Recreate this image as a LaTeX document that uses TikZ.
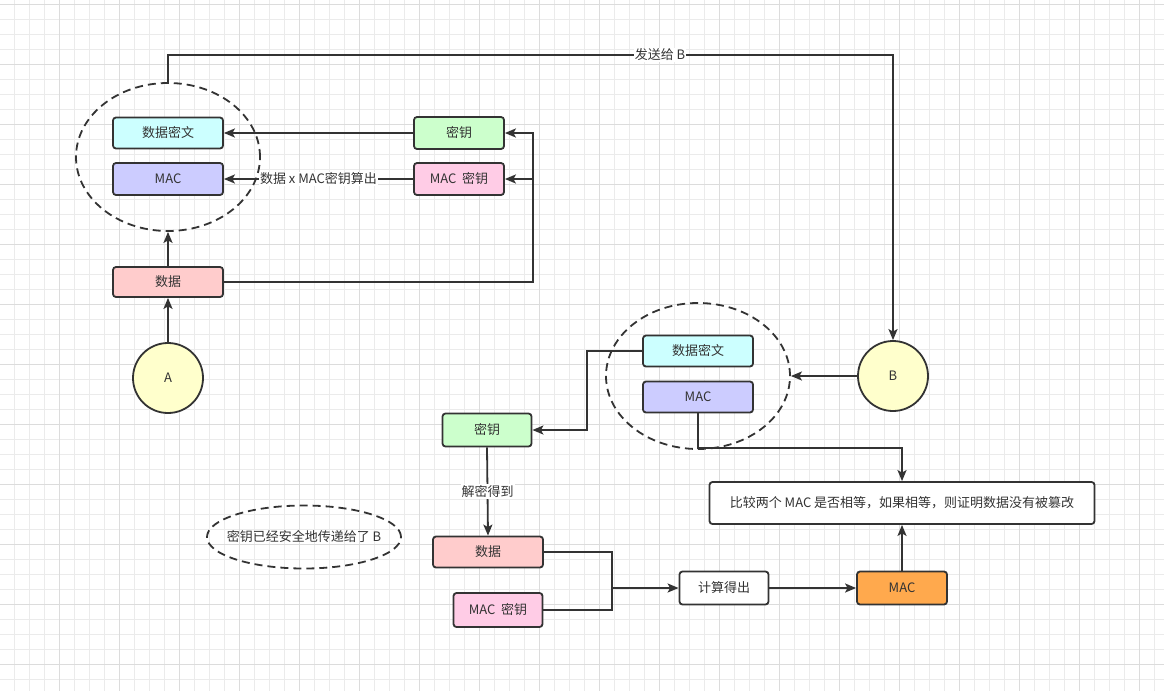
\documentclass[tikz,border=0pt]{standalone}
\usepackage{fontspec}
\setmainfont{Noto Sans CJK SC}
\usetikzlibrary{arrows.meta,shapes.geometric}
\definecolor{ink}{HTML}{333333}
\definecolor{gridmin}{HTML}{EBEBEB}
\definecolor{gridmaj}{HTML}{DCDCDC}
\definecolor{cyanf}{HTML}{CCFFFF}
\definecolor{lavf}{HTML}{CCCCFF}
\definecolor{greenf}{HTML}{CCFFCC}
\definecolor{pinkf}{HTML}{FFCCE6}
\definecolor{redf}{HTML}{FFCCCC}
\definecolor{yelf}{HTML}{FFFFCC}
\definecolor{orangef}{HTML}{FFA94D}
\begin{document}
\begin{tikzpicture}[x=1pt,y=-1pt,
  txt/.style={text=ink,font=\fontsize{13}{15}\selectfont},
  box/.style={txt,rectangle,rounded corners=3pt,draw=ink,line width=1.8pt,inner sep=0pt},
  circ/.style={txt,circle,draw=ink,fill=yelf,line width=1.8pt,minimum size=70pt,inner sep=0pt},
  dell/.style={ellipse,draw=ink,line width=1.8pt,dash pattern=on 8pt off 5pt,inner sep=0pt},
  conn/.style={draw=ink,line width=1.8pt,-{Stealth[length=11pt,width=9pt,inset=2.5pt]}},
  plain/.style={draw=ink,line width=1.8pt},
  lbl/.style={txt,fill=white,inner sep=1pt},
  gmin/.style={draw=gridmin,line width=1pt},
  gmaj/.style={draw=gridmaj,line width=1pt}]
\useasboundingbox (0,0) rectangle (1164,691);
\fill[white] (0,0) rectangle (1164,691);
% grid
\foreach \x in {14,29,...,1164} {\draw[gmin] (\x,0) -- (\x,691);}
\foreach \y in {4,19,...,691} {\draw[gmin] (0,\y) -- (1164,\y);}
\foreach \x in {59,119,...,1164} {\draw[gmaj] (\x,0) -- (\x,691);}
\foreach \y in {4,64,...,691} {\draw[gmaj] (0,\y) -- (1164,\y);}

% ellipses
\node[dell,minimum width=184pt,minimum height=148pt] (el1) at (168,157) {};
\node[dell,minimum width=184pt,minimum height=146pt] (el2) at (698,376) {};
\node[dell,minimum width=194pt,minimum height=63pt] (el3) at (304,537) {};
\node[txt] (t3) at (el3.center) {密钥已经安全地传递给了 B};

% top-left group
\node[box,fill=cyanf,minimum width=110pt,minimum height=31pt] (c1) at (168,133) {数据密文};
\node[box,fill=lavf,minimum width=110pt,minimum height=32pt] (m1) at (168,179) {MAC};
\node[box,fill=greenf,minimum width=90pt,minimum height=32pt] (k1) at (459,133) {密钥};
\node[box,fill=pinkf,minimum width=90pt,minimum height=32pt] (mk1) at (459,179) {MAC\ \ 密钥};
\node[box,fill=redf,minimum width=110pt,minimum height=30pt] (d1) at (168,282) {数据};
\node[circ] (A) at (168,378) {A};

% right / bottom group
\node[circ] (B) at (893,376) {B};
\node[box,fill=cyanf,minimum width=110pt,minimum height=31pt] (c2) at (698,351) {数据密文};
\node[box,fill=lavf,minimum width=110pt,minimum height=31pt] (m2) at (698,397) {MAC};
\node[box,fill=greenf,minimum width=89pt,minimum height=33pt] (k2) at (487,430) {密钥};
\node[box,fill=redf,minimum width=110pt,minimum height=31pt] (d3) at (488,552) {数据};
\node[box,fill=pinkf,minimum width=89pt,minimum height=34pt] (mk3) at (498,610) {MAC\ \ 密钥};
\node[box,fill=white,minimum width=89pt,minimum height=33pt] (calc) at (724,588) {计算得出};
\node[box,fill=orangef,minimum width=90pt,minimum height=33pt] (mac3) at (902,588) {MAC};
\node[box,fill=white,minimum width=385pt,minimum height=42pt] (cmp) at (902,503) {比较两个\ MAC\ 是否相等，如果相等，则证明数据没有被篡改};

% junction coordinates
\coordinate (j1) at (533,282);
\coordinate (j2) at (533,133);
\coordinate (jt1) at (168,55);
\coordinate (jt2) at (893,55);
\coordinate (j3) at (587,351);
\coordinate (j4) at (698,448);
\coordinate (j5) at (612,588);

% connectors
\draw[conn] (A.north) -- (d1.south);
\draw[conn] (d1.north) -- (el1.south);
\draw[conn] (d1.east) -- (j1) -- (j2) -- (k1.east);
\draw[conn] (j1 |- mk1.east) -- (mk1.east);
\draw[conn] (k1.west) -- (c1.east);
\draw[conn] (mk1.west) -- node[lbl] (lmac) {数据\ x\ MAC密钥算出} (m1.east);
\draw[conn] (el1.north) -- (jt1) -- (jt2) -- (B.north);
\node[lbl] (lsend) at (660,55) {发送给\ B};
\draw[conn] (B.west) -- (el2.east);
\draw[conn] (c2.west) -- (j3) |- (k2.east);
\draw[conn] (k2.south) -- node[lbl] (ldec) {解密得到} (d3.north);
\draw[plain] (d3.east) -| (j5);
\draw[plain] (mk3.east) -| (j5);
\draw[conn] (j5) -- (calc.west);
\draw[conn] (calc.east) -- (mac3.west);
\draw[conn] (mac3.north) -- (cmp.south);
\draw[conn] (m2.south) -- (j4) -| (cmp.north);
\end{tikzpicture}
\end{document}
